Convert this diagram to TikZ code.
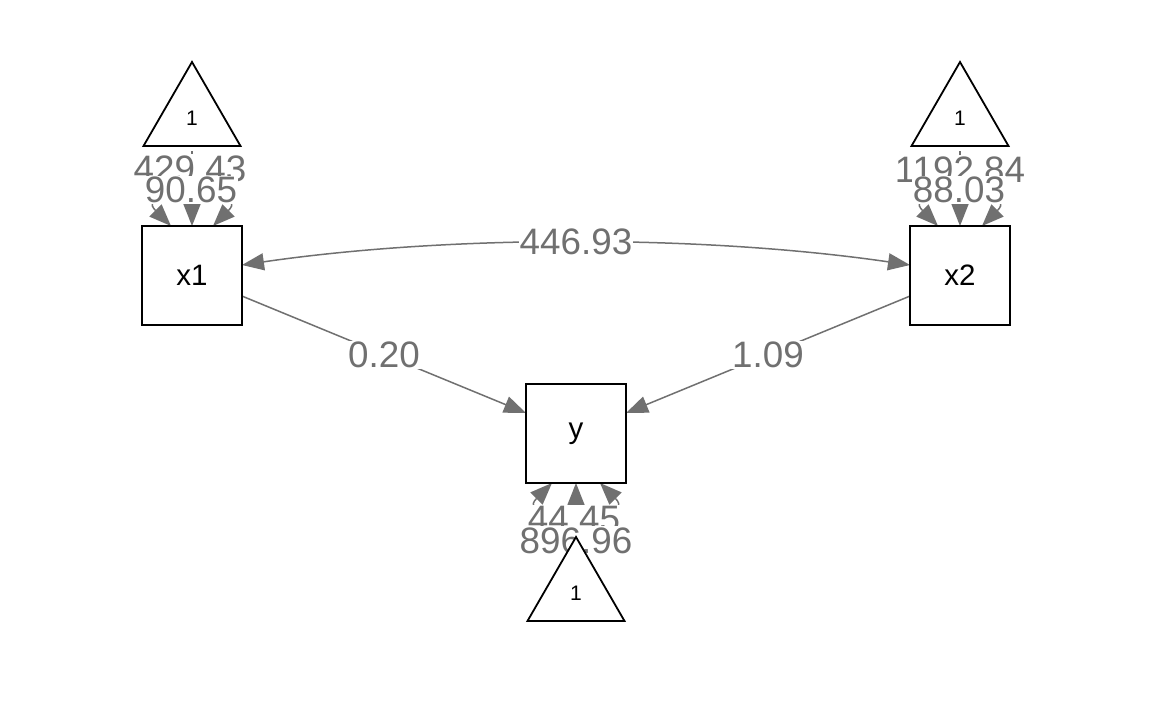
\documentclass[tikz,border=0pt]{standalone}
\usepackage{fontspec}
\setmainfont{Liberation Sans}
\usetikzlibrary{arrows.meta,shapes.geometric,calc}
\pgfdeclarelayer{bg}
\pgfdeclarelayer{edges}
\pgfdeclarelayer{labels}
\pgfsetlayers{bg,edges,labels,main}
\definecolor{edgegray}{RGB}{112,112,112}
\begin{document}
\begin{tikzpicture}[x=1pt,y=-1pt,
  var/.style={draw=black, line width=1.8pt, fill=white, minimum width=100pt,
    minimum height=99pt, inner sep=0pt, outer sep=0pt, font=\fontsize{29.5}{32}\selectfont},
  const/.style={draw=black, line width=1.8pt, fill=white, regular polygon,
    regular polygon sides=3, minimum size=112pt, inner sep=0pt, outer sep=0pt,
    font=\fontsize{21}{23}\selectfont},
  link/.style={draw=edgegray, line width=1.5pt},
  tip/.style={Triangle[length=22pt,width=17pt]},
  onehead/.style={link, -{Triangle[length=22pt,width=17pt]}},
  twohead/.style={link, {Triangle[length=22pt,width=17pt]}-{Triangle[length=22pt,width=17pt]}},
  lbl/.style={fill=white, text=edgegray, inner sep=1pt, font=\fontsize{36.8}{40}\selectfont}]

\useasboundingbox (0,0) rectangle (1152,711);
\begin{pgfonlayer}{bg}
  \fill[white] (0,0) rectangle (1152,711);
\end{pgfonlayer}

% observed variables
\node[var] (x1) at (192,275.5) {x1};
\node[var] (x2) at (960,275.5) {x2};
\node[var] (y)  at (576,433.5) {y};

% intercept triangles
\node[const] (t1) at (192,118) {1};
\node[const] (t2) at (960,118) {1};
\node[const] (t3) at (576,593) {1};

\begin{pgfonlayer}{edges}
  % regressions
  \draw[onehead] (x1) -- (y) node[coordinate,pos=.5] (l-x1y) {};
  \draw[onehead] (x2) -- (y) node[coordinate,pos=.5] (l-x2y) {};
  % covariance
  \draw[twohead] ([yshift=10.5pt]x1.east) .. controls +(208,-30.3) and +(-208,-30.3) ..
    ([yshift=10.5pt]x2.west) node[coordinate,pos=.5] (l-cov) {};
  % intercepts
  \draw[onehead, shorten <=5pt] (t1.south) -- (x1.north) node[coordinate,pos=.55] (l-t1) {};
  \draw[onehead, shorten <=5pt] (t2.south) -- (x2.north) node[coordinate,pos=.55] (l-t2) {};
  \draw[onehead] (t3.corner 1) -- (y.south) node[coordinate,pos=.333] (l-t3) {};
  % variances
  \draw[twohead] ([xshift=-21pt]x1.north) .. controls +(-42,-42) and +(42,-42) ..
    ([xshift=21pt]x1.north) node[coordinate,pos=.5] (l-v1) {};
  \draw[twohead] ([xshift=-22pt]x2.north) .. controls +(-42,-42) and +(42,-42) ..
    ([xshift=22pt]x2.north) node[coordinate,pos=.5] (l-v2) {};
  \draw[twohead] ([xshift=-24pt]y.south) .. controls +(-42,42) and +(42,42) ..
    ([xshift=24pt]y.south) node[coordinate,pos=.5] (l-vy) {};
\end{pgfonlayer}

\begin{pgfonlayer}{labels}
  \node[lbl] at (l-cov) {446.93};
  \node[lbl] at (l-x1y) {0.20};
  \node[lbl] at (l-x2y) {1.09};
  \node[lbl, xshift=-2pt, yshift=26pt] at (l-v1) {429.43};
  \node[lbl, xshift=-1pt] at (l-t1) {90.65};
  \node[lbl, yshift=25pt] at (l-v2) {1192.84};
  \node[lbl, xshift=-1pt] at (l-t2) {88.03};
  \node[lbl, xshift=-2pt] at (l-t3) {44.45};
  \node[lbl, yshift=-26pt] at (l-vy) {896.96};
\end{pgfonlayer}
\end{tikzpicture}
\end{document}
